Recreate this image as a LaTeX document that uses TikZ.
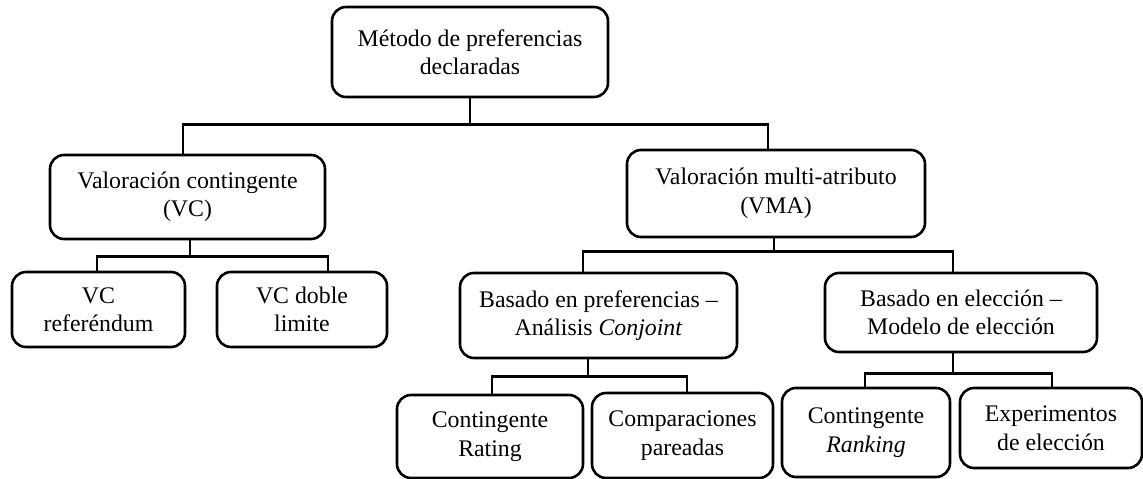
\documentclass[tikz,border=0pt]{standalone}
\usepackage{fontspec}
\setmainfont{Liberation Serif}
\usepackage{tikz}

\begin{document}
\begin{tikzpicture}[x=1pt,y=-1pt,
  caja/.style={draw,line width=2.6pt,rounded corners=14pt,align=center,inner sep=0pt,font=\fontsize{23.8}{28.5}\selectfont},
  linea/.style={line width=2.4pt}]
\useasboundingbox (0,0) rectangle (1143,479);
\node[caja,minimum width=276pt,minimum height=90pt] (mpd) at (470,52) {Método de preferencias\\declaradas};
\node[caja,minimum width=275pt,minimum height=84pt] (vc) at (187.5,197) {Valoración contingente\\(VC)};
\node[caja,minimum width=298pt,minimum height=87pt] (vma) at (776,193.5) {Valoración multi-atributo\\(VMA)};
\node[caja,minimum width=173pt,minimum height=75pt] (vcref) at (98.5,309.5) {VC\\referéndum};
\node[caja,minimum width=170pt,minimum height=75pt] (vcdob) at (302,309.5) {VC doble\\limite};
\node[caja,minimum width=277pt,minimum height=85pt] (pref) at (598.5,315.5) {Basado en preferencias --\\Análisis \textit{Conjoint}};
\node[caja,minimum width=272pt,minimum height=79pt] (elec) at (961,312.5) {Basado en elección --\\Modelo de elección};
\node[caja,minimum width=186pt,minimum height=83pt] (rating) at (490,436.5) {Contingente\\Rating};
\node[caja,minimum width=181pt,minimum height=85pt] (compar) at (682.5,435.5) {Comparaciones\\pareadas};
\node[caja,minimum width=168pt,minimum height=89pt] (ranking) at (866,432.5) {Contingente\\\textit{Ranking}};
\node[caja,minimum width=182pt,minimum height=80pt] (exper) at (1051,428) {Experimentos\\de elección};
% primer nivel
\draw[linea] (mpd.south) -- ++(0,26) coordinate (j1);
\draw[linea] ([xshift=-4.5pt]vc.north) |- (j1) -| ([xshift=-8pt]vma.north);
% valoracion contingente
\draw[linea] ([xshift=2.5pt]vc.south) -- ++(0,16) coordinate (j2);
\draw[linea] ([xshift=-1.5pt]vcref.north) |- (j2) -| ([xshift=26pt]vcdob.north);
% multi-atributo
\draw[linea] ([xshift=-2pt]vma.south) -- ++(0,13) coordinate (j3);
\draw[linea] ([xshift=-15.5pt]pref.north) |- (j3) -| ([xshift=-8pt]elec.north);
\draw[linea] ([xshift=-10.5pt]pref.south) -- ++(0,17) coordinate (j4);
\draw[linea] ([xshift=2pt]rating.north) |- (j4) -| ([xshift=4.5pt]compar.north);
\draw[linea] ([xshift=-8pt]elec.south) -- ++(0,20) coordinate (j5);
\draw[linea] ([xshift=-1pt]ranking.north) |- (j5) -| ([xshift=1pt]exper.north);
\end{tikzpicture}
\end{document}
